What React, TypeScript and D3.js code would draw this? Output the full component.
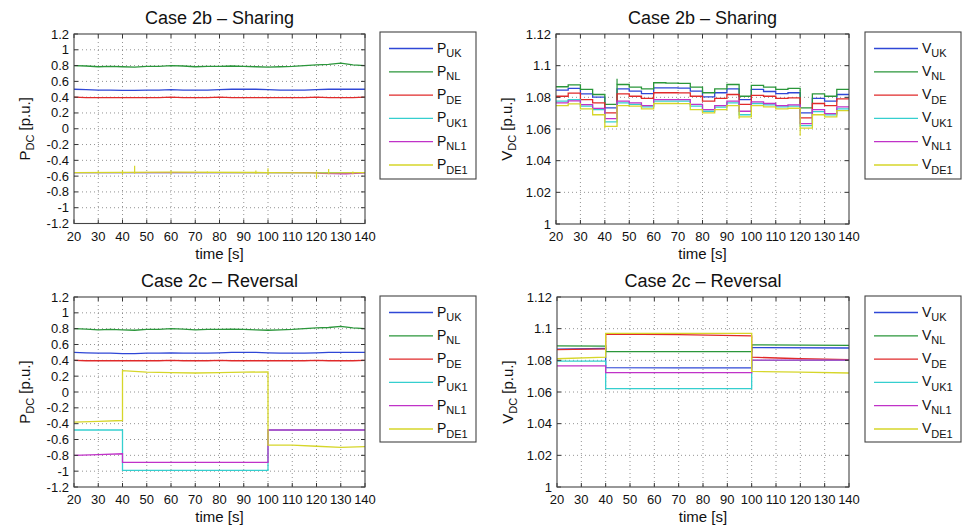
import React from 'react';
import * as d3 from 'd3';

// ---------- axes / labels ----------
const timeTicks = [20, 30, 40, 50, 60, 70, 80, 90, 100, 110, 120, 130, 140];
const pTicks = [1.2, 1, 0.8, 0.6, 0.4, 0.2, 0, -0.2, -0.4, -0.6, -0.8, -1, -1.2];
const pTickLabels = ['1.2', '1', '0.8', '0.6', '0.4', '0.2', '0', '-0.2', '-0.4', '-0.6', '-0.8', '-1', '-1.2'];
const vTicks = [1, 1.02, 1.04, 1.06, 1.08, 1.1, 1.12];
const vTickLabels = ['1', '1.02', '1.04', '1.06', '1.08', '1.1', '1.12'];
const seriesNames = ['UK', 'NL', 'DE', 'UK1', 'NL1', 'DE1'];
const seriesColors = ['#2f47d6', '#2a963a', '#e02a2a', '#35cfcf', '#c032c8', '#d6d62a'];
const titles = ['Case 2b \u2013 Sharing', 'Case 2b \u2013 Sharing', 'Case 2c \u2013 Reversal', 'Case 2c \u2013 Reversal'];

// ---------- power: onshore converters (both cases) ----------
const pT = [20, 25, 30, 35, 40, 45, 50, 55, 60, 65, 70, 75, 80, 85, 90, 95, 100, 105, 110, 115, 120, 125, 130, 135, 140];
const pUK = [0.5, 0.495, 0.49, 0.49, 0.485, 0.485, 0.49, 0.49, 0.495, 0.49, 0.49, 0.49, 0.495, 0.5, 0.5, 0.5, 0.495, 0.49, 0.49, 0.49, 0.495, 0.5, 0.5, 0.5, 0.5];
const pNL = [0.8, 0.795, 0.785, 0.79, 0.785, 0.78, 0.79, 0.79, 0.8, 0.795, 0.785, 0.79, 0.79, 0.795, 0.79, 0.785, 0.78, 0.785, 0.79, 0.8, 0.81, 0.815, 0.83, 0.81, 0.8];
const pDE = [0.4, 0.395, 0.395, 0.395, 0.395, 0.395, 0.395, 0.395, 0.4, 0.395, 0.395, 0.395, 0.4, 0.395, 0.395, 0.395, 0.395, 0.395, 0.395, 0.395, 0.4, 0.395, 0.395, 0.395, 0.4];

// ---------- power: case 2b offshore ----------
const p2bUK1T = [20, 140];
const p2bUK1V = [-0.555, -0.555];
const p2bNL1T = [20, 118, 122, 132, 140];
const p2bNL1V = [-0.555, -0.555, -0.565, -0.57, -0.56];
const p2bDE1T = [20, 60, 100, 120, 125, 140];
const p2bDE1V = [-0.555, -0.55, -0.555, -0.56, -0.56, -0.555];
// transients (vertical spikes) on the DE1 trace
const p2bSpikeT = [30, 40, 45, 60, 75, 95, 100, 120, 125, 135];
const p2bSpikeHi = [-0.535, -0.53, -0.47, -0.53, -0.54, -0.53, -0.5, -0.54, -0.51, -0.54];
const p2bSpikeLo = [-0.565, -0.58, -0.57, -0.575, -0.565, -0.57, -0.585, -0.63, -0.575, -0.575];

// ---------- power: case 2c offshore ----------
const p2cUK1T = [20, 40, 40, 100, 100, 140];
const p2cUK1V = [-0.48, -0.48, -0.99, -0.99, -0.48, -0.48];
const p2cNL1T = [20, 30, 40, 40, 100, 100, 140];
const p2cNL1V = [-0.8, -0.79, -0.78, -0.89, -0.89, -0.48, -0.48];
const p2cDE1T = [20, 30, 40, 40, 50, 60, 70, 80, 90, 100, 100, 110, 120, 130, 140];
const p2cDE1V = [-0.38, -0.37, -0.36, 0.27, 0.25, 0.245, 0.24, 0.245, 0.25, 0.255, -0.67, -0.67, -0.685, -0.7, -0.69];

// ---------- voltage: case 2b (5 s steps) ----------
const v2bT = [20, 25, 30, 35, 40, 45, 50, 55, 60, 65, 70, 75, 80, 85, 90, 95, 100, 105, 110, 115, 120, 125, 130, 135, 140];
const v2bUK = [1.0845, 1.0856, 1.0822, 1.0801, 1.0733, 1.0854, 1.0839, 1.0824, 1.086, 1.086, 1.0858, 1.0839, 1.0803, 1.0829, 1.0854, 1.0786, 1.085, 1.0837, 1.0824, 1.0829, 1.0702, 1.0793, 1.0776, 1.0818];
const v2bNL = [1.0867, 1.0879, 1.085, 1.0818, 1.0755, 1.0881, 1.0865, 1.0854, 1.0892, 1.089, 1.0888, 1.0865, 1.0829, 1.0854, 1.0881, 1.0807, 1.0875, 1.0865, 1.085, 1.0856, 1.0733, 1.0822, 1.0807, 1.085];
const v2bDE = [1.0807, 1.0826, 1.0786, 1.0765, 1.0702, 1.0822, 1.0807, 1.0793, 1.0829, 1.0829, 1.0828, 1.0807, 1.0776, 1.0793, 1.0818, 1.0755, 1.0812, 1.0807, 1.0793, 1.0797, 1.067, 1.0761, 1.0748, 1.079];
const v2bUK1 = [1.0776, 1.0786, 1.0744, 1.0723, 1.0645, 1.0765, 1.0755, 1.074, 1.0776, 1.0776, 1.0776, 1.0744, 1.0712, 1.0738, 1.0765, 1.069, 1.0761, 1.0752, 1.074, 1.0744, 1.0621, 1.071, 1.0689, 1.0727];
const v2bNL1 = [1.0765, 1.0778, 1.0754, 1.073, 1.0665, 1.0776, 1.0765, 1.0748, 1.0786, 1.0786, 1.0785, 1.0755, 1.0723, 1.0748, 1.0776, 1.0712, 1.0771, 1.0761, 1.0748, 1.0752, 1.0634, 1.0723, 1.0697, 1.074];
const v2bDE1 = [1.0748, 1.0759, 1.0727, 1.069, 1.0617, 1.0748, 1.0744, 1.0727, 1.0761, 1.0761, 1.076, 1.0723, 1.0702, 1.0723, 1.0748, 1.0676, 1.0748, 1.074, 1.0727, 1.0731, 1.0606, 1.069, 1.0676, 1.0716];
// transients at switching instants
const v2bSpikeT = [45, 40, 95, 120];
const v2bSpikeSeries = [1, 5, 5, 5];
const v2bSpikeV = [1.0917, 1.0605, 1.0665, 1.0558];

// ---------- voltage: case 2c ----------
const v2cUKT = [20, 40, 40, 70, 100, 100, 140];
const v2cUKV = [1.087, 1.0875, 1.0754, 1.0753, 1.0752, 1.088, 1.0878];
const v2cNLT = [20, 40, 40, 100, 100, 140];
const v2cNLV = [1.0891, 1.089, 1.0855, 1.0855, 1.0898, 1.0895];
const v2cDET = [20, 40, 40, 70, 100, 100, 120, 140];
const v2cDEV = [1.0868, 1.0873, 1.0965, 1.0962, 1.0955, 1.082, 1.081, 1.0805];
const v2cUK1T = [20, 40, 40, 100, 100, 140];
const v2cUK1V = [1.0795, 1.0795, 1.0621, 1.0621, 1.08, 1.08];
const v2cNL1T = [20, 40, 40, 100, 100, 140];
const v2cNL1V = [1.0765, 1.0765, 1.0722, 1.0722, 1.0801, 1.0801];
const v2cDE1T = [20, 40, 40, 100, 100, 120, 140];
const v2cDE1V = [1.081, 1.082, 1.097, 1.097, 1.073, 1.0725, 1.072];

type Pt = [number, number];
type Spike = { t: number; s: number; lo: number; hi: number };
const zipPts = (t: number[], v: number[]): Pt[] => t.map((x, i) => [x, v[i]] as Pt);
const stepPts = (t: number[], v: number[]): Pt[] => t.map((x, i) => [x, v[Math.min(i, v.length - 1)]] as Pt);

const FONT = '"Liberation Sans", Arial, Helvetica, sans-serif';

type PanelProps = {
  left: number; right: number; top: number; bottom: number;
  title: string; yDomain: [number, number]; yTicks: number[]; yTickLabels: string[];
  sym: string; series: { pts: Pt[]; step: boolean }[];
  spikes?: Spike[];
  legendX: number; legendY: number; legendH: number;
};

function Panel(p: PanelProps) {
  const x = d3.scaleLinear().domain([20, 140]).range([p.left, p.right]);
  const y = d3.scaleLinear().domain(p.yDomain).range([p.bottom, p.top]);
  const lin = d3.line<Pt>().x((d) => x(d[0])).y((d) => y(d[1])).curve(d3.curveLinear);
  const stp = d3.line<Pt>().x((d) => x(d[0])).y((d) => y(d[1])).curve(d3.curveStepAfter);
  const cx = (p.left + p.right) / 2;
  const cy = (p.top + p.bottom) / 2;
  const tl = 4;
  const clipId = `clip-${p.left}-${p.top}`;
  const legW = 96;
  const rowStep = 23.3;
  return (
    <g>
      <defs>
        <clipPath id={clipId}>
          <rect x={p.left} y={p.top} width={p.right - p.left} height={p.bottom - p.top} />
        </clipPath>
      </defs>
      <rect x={p.left} y={p.top} width={p.right - p.left} height={p.bottom - p.top} fill="#fff" />
      {/* grid */}
      {timeTicks.slice(1, -1).map((t) => (
        <line key={'gx' + t} x1={x(t)} x2={x(t)} y1={p.top} y2={p.bottom} stroke="#777" strokeWidth={0.8} strokeDasharray="1,3" />
      ))}
      {p.yTicks.filter((v) => v !== p.yDomain[0] && v !== p.yDomain[1]).map((v) => (
        <line key={'gy' + v} x1={p.left} x2={p.right} y1={y(v)} y2={y(v)} stroke="#777" strokeWidth={0.8} strokeDasharray="1,3" />
      ))}
      {/* data */}
      <g clipPath={`url(#${clipId})`}>
        {p.series.map((s, i) => (
          <path key={i} d={(s.step ? stp : lin)(s.pts) || ''} fill="none" stroke={seriesColors[i]} strokeWidth={1.3} />
        ))}
        {(p.spikes || []).map((sp, i) => (
          <line key={'sp' + i} x1={x(sp.t)} x2={x(sp.t)} y1={y(sp.lo)} y2={y(sp.hi)} stroke={seriesColors[sp.s]} strokeWidth={1.2} />
        ))}
      </g>
      {/* ticks */}
      {timeTicks.map((t) => (
        <g key={'tx' + t}>
          <line x1={x(t)} x2={x(t)} y1={p.bottom} y2={p.bottom - tl} stroke="#333" />
          <line x1={x(t)} x2={x(t)} y1={p.top} y2={p.top + tl} stroke="#333" />
          <text x={x(t)} y={p.bottom + 17} textAnchor="middle" fontSize={13} fontFamily={FONT} fill="#111">{t}</text>
        </g>
      ))}
      {p.yTicks.map((v, i) => (
        <g key={'ty' + v}>
          <line x1={p.left} x2={p.left + tl} y1={y(v)} y2={y(v)} stroke="#333" />
          <line x1={p.right} x2={p.right - tl} y1={y(v)} y2={y(v)} stroke="#333" />
          <text x={p.left - 5} y={y(v) + 4.5} textAnchor="end" fontSize={13} fontFamily={FONT} fill="#111">{p.yTickLabels[i]}</text>
        </g>
      ))}
      <rect x={p.left} y={p.top} width={p.right - p.left} height={p.bottom - p.top} fill="none" stroke="#444" strokeWidth={1.1} />
      {/* titles */}
      <text x={cx} y={p.top - 10} textAnchor="middle" fontSize={18} fontFamily={FONT} fill="#111">{p.title}</text>
      <text x={cx} y={p.bottom + 35} textAnchor="middle" fontSize={15} fontFamily={FONT} fill="#111">time [s]</text>
      <text transform={`translate(${p.left - 44},${cy}) rotate(-90)`} textAnchor="middle" fontSize={15} fontFamily={FONT} fill="#111">
        {p.sym}
        <tspan fontSize={11} dy={4}>DC</tspan>
        <tspan dy={-4}> [p.u.]</tspan>
      </text>
      {/* legend */}
      <rect x={p.legendX} y={p.legendY} width={legW} height={p.legendH} fill="#fff" stroke="#444" strokeWidth={1.1} />
      {seriesNames.map((n, i) => {
        const ly = p.legendY + 16.5 + i * rowStep;
        return (
          <g key={'lg' + n}>
            <line x1={p.legendX + 9} x2={p.legendX + 53} y1={ly} y2={ly} stroke={seriesColors[i]} strokeWidth={1.3} />
            <text x={p.legendX + 57} y={ly + 4} fontSize={14} fontFamily={FONT} fill="#111">
              {p.sym}
              <tspan fontSize={11} dy={4.5}>{n}</tspan>
            </text>
          </g>
        );
      })}
    </g>
  );
}

export default function App() {
  const pOn = [zipPts(pT, pUK), zipPts(pT, pNL), zipPts(pT, pDE)];
  const tlSeries = [
    ...pOn.map((pts) => ({ pts, step: false })),
    { pts: zipPts(p2bUK1T, p2bUK1V), step: false },
    { pts: zipPts(p2bNL1T, p2bNL1V), step: false },
    { pts: zipPts(p2bDE1T, p2bDE1V), step: false },
  ];
  const tlSpikes: Spike[] = p2bSpikeT.map((t, i) => ({ t, s: 5, lo: p2bSpikeLo[i], hi: p2bSpikeHi[i] }));
  const blSeries = [
    ...pOn.map((pts) => ({ pts, step: false })),
    { pts: zipPts(p2cUK1T, p2cUK1V), step: false },
    { pts: zipPts(p2cNL1T, p2cNL1V), step: false },
    { pts: zipPts(p2cDE1T, p2cDE1V), step: false },
  ];
  const v2b = [v2bUK, v2bNL, v2bDE, v2bUK1, v2bNL1, v2bDE1];
  const trSeries = v2b.map((v) => ({ pts: stepPts(v2bT, v), step: true }));
  const trSpikes: Spike[] = v2bSpikeT.map((t, i) => {
    const s = v2bSpikeSeries[i];
    const base = v2b[s][v2bT.indexOf(t)];
    return { t, s, lo: Math.min(base, v2bSpikeV[i]), hi: Math.max(base, v2bSpikeV[i]) };
  });
  const brSeries = [
    zipPts(v2cUKT, v2cUKV), zipPts(v2cNLT, v2cNLV), zipPts(v2cDET, v2cDEV),
    zipPts(v2cUK1T, v2cUK1V), zipPts(v2cNL1T, v2cNL1V), zipPts(v2cDE1T, v2cDE1V),
  ].map((pts) => ({ pts, step: false }));
  return (
    <svg width={963} height={529} style={{ position: 'absolute', left: 0, top: 0, background: '#fff' }}>
      <rect width={963} height={529} fill="#fff" />
      <Panel left={74} right={365} top={34} bottom={223.5} title={titles[0]} yDomain={[-1.2, 1.2]} yTicks={pTicks} yTickLabels={pTickLabels} sym="P" series={tlSeries} spikes={tlSpikes} legendX={380} legendY={32} legendH={147} />
      <Panel left={556} right={849} top={34} bottom={224} title={titles[1]} yDomain={[1, 1.12]} yTicks={vTicks} yTickLabels={vTickLabels} sym="V" series={trSeries} spikes={trSpikes} legendX={865} legendY={32} legendH={147} />
      <Panel left={74} right={365} top={297} bottom={487} title={titles[2]} yDomain={[-1.2, 1.2]} yTicks={pTicks} yTickLabels={pTickLabels} sym="P" series={blSeries} legendX={380} legendY={296} legendH={146} />
      <Panel left={557} right={849} top={297} bottom={487} title={titles[3]} yDomain={[1, 1.12]} yTicks={vTicks} yTickLabels={vTickLabels} sym="V" series={brSeries} legendX={865} legendY={296} legendH={146} />
    </svg>
  );
}
